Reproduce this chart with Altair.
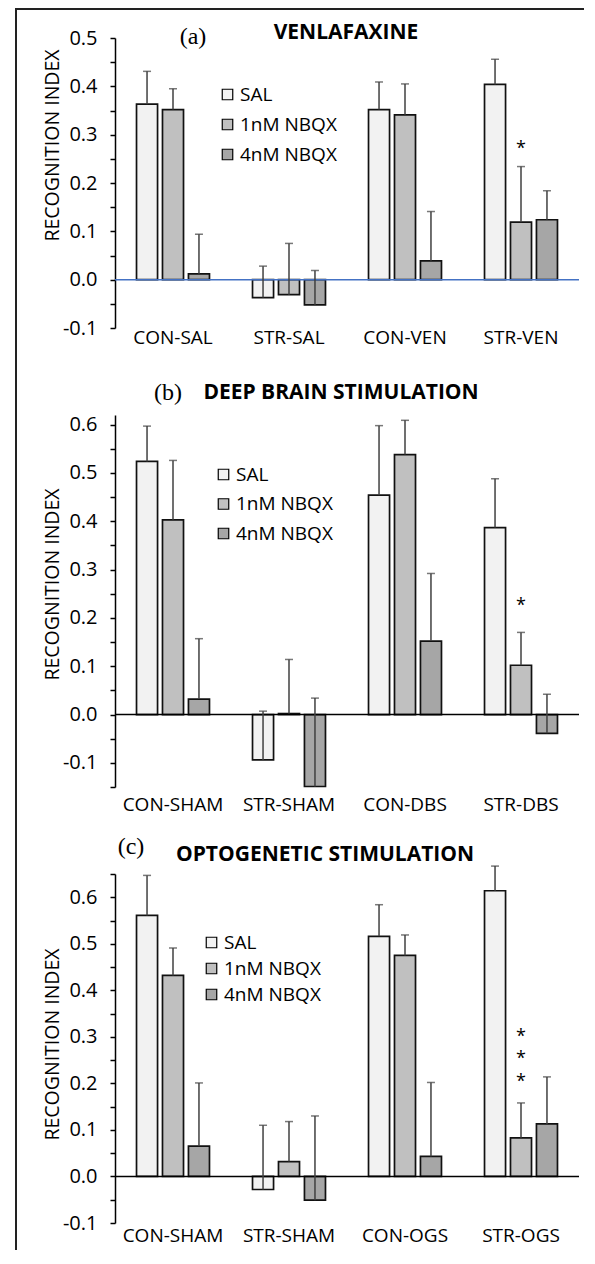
import altair as alt
import pandas as pd

FONT = "Open Sans"
SERIES = ["SAL", "1nM NBQX", "4nM NBQX"]
COLORS = ["#F2F2F2", "#C0C0C0", "#A6A6A6"]

# ---------------- panel (a) VENLAFAXINE ----------------
groups_a = ["CON-SAL", "STR-SAL", "CON-VEN", "STR-VEN"]
sal_a = [0.363, -0.037, 0.352, 0.404]
nbqx1_a = [0.352, -0.031, 0.341, 0.119]
nbqx4_a = [0.012, -0.052, 0.039, 0.124]
err_sal_a = [0.068, 0.065, 0.057, 0.052]
err_nbqx1_a = [0.043, 0.106, 0.064, 0.115]
err_nbqx4_a = [0.082, 0.071, 0.102, 0.060]
stars_a = [0.283]
ticks_a = [-0.1, -0.05, 0.0, 0.05, 0.1, 0.15, 0.2, 0.25, 0.3, 0.35, 0.4, 0.45, 0.5]

# ---------------- panel (b) DEEP BRAIN STIMULATION ----------------
groups_b = ["CON-SHAM", "STR-SHAM", "CON-DBS", "STR-DBS"]
sal_b = [0.524, -0.094, 0.454, 0.387]
nbqx1_b = [0.403, 0.002, 0.538, 0.102]
nbqx4_b = [0.032, -0.149, 0.152, -0.039]
err_sal_b = [0.073, 0.101, 0.144, 0.101]
err_nbqx1_b = [0.123, 0.112, 0.071, 0.068]
err_nbqx4_b = [0.125, 0.183, 0.140, 0.081]
stars_b = [0.238]
ticks_b = [-0.15, -0.1, -0.05, 0.0, 0.05, 0.1, 0.15, 0.2, 0.25, 0.3, 0.35, 0.4, 0.45, 0.5, 0.55, 0.6]

# ---------------- panel (c) OPTOGENETIC STIMULATION ----------------
groups_c = ["CON-SHAM", "STR-SHAM", "CON-OGS", "STR-OGS"]
sal_c = [0.561, -0.028, 0.516, 0.614]
nbqx1_c = [0.432, 0.032, 0.475, 0.083]
nbqx4_c = [0.065, -0.051, 0.043, 0.113]
err_sal_c = [0.086, 0.138, 0.068, 0.053]
err_nbqx1_c = [0.059, 0.086, 0.044, 0.075]
err_nbqx4_c = [0.136, 0.181, 0.159, 0.101]
stars_c = [0.313, 0.265, 0.216]
ticks_c = [-0.1, -0.05, 0.0, 0.05, 0.1, 0.15, 0.2, 0.25, 0.3, 0.35, 0.4, 0.45, 0.5, 0.55, 0.6, 0.65]

PLOT_W = 464
LABEL_EXPR = ("abs(round(datum.value*100)) % 10 == 0 ? "
              "replace(format(datum.value, '.1f'), '\u2212', '-') : ''")


def panel(groups, vals, errs, ydom, ticks, height, zero_color, xlabel_pad,
          leg_x, leg_y, row_pad, star_group, star_ys, tag, tag_xy,
          title, title_xy, axis_title_y, frame=False):
    rows = []
    for s, vs, es in zip(SERIES, vals, errs):
        for g, v, e in zip(groups, vs, es):
            rows.append({"group": g, "series": s, "value": v, "top": round(v + e, 4)})
    df = pd.DataFrame(rows)

    x_enc = alt.X("group:N", sort=groups,
                  scale=alt.Scale(paddingInner=0.371, paddingOuter=0.1855),
                  axis=alt.Axis(title=None, labelAngle=0, domain=False, ticks=False,
                                labelFont=FONT, labelFontSize=19, labelColor="black",
                                labelPadding=xlabel_pad))
    xo_enc = alt.XOffset("series:N", sort=SERIES,
                         scale=alt.Scale(paddingInner=0.19, paddingOuter=0))
    y_scale = alt.Scale(domain=ydom, nice=False, zero=False)
    y_axis = alt.Axis(values=ticks, tickCount=60, labelExpr=LABEL_EXPR, labelOverlap=False,
                      title="RECOGNITION INDEX", titleFont=FONT, titleFontSize=19.5,
                      titleFontWeight="normal", titleColor="black",
                      titleX=-63, titleY=axis_title_y, titleBaseline="middle",
                      labelFont=FONT, labelFontSize=20, labelColor="black",
                      labelPadding=13, tickSize=5, tickColor="black", tickWidth=1.5,
                      domainColor="black", domainWidth=1.5, grid=False)

    bars = alt.Chart(df).mark_bar(stroke="#111111", strokeWidth=1.7).encode(
        x=x_enc, xOffset=xo_enc,
        y=alt.Y("value:Q", scale=y_scale, axis=y_axis),
        color=alt.Color("series:N", sort=SERIES,
                        scale=alt.Scale(domain=SERIES, range=COLORS),
                        legend=alt.Legend(orient="none", legendX=leg_x, legendY=leg_y,
                                          title=None, symbolType="square", symbolSize=110,
                                          symbolStrokeColor="black", symbolStrokeWidth=1.2,
                                          symbolOpacity=1, labelFont=FONT, labelFontSize=19,
                                          labelColor="black", rowPadding=row_pad,
                                          padding=0, labelOffset=3, direction="vertical")),
    )
    zero = alt.Chart(pd.DataFrame({"value": [0.0]})).mark_rule(
        color=zero_color, strokeWidth=1.5).encode(y="value:Q")
    err = alt.Chart(df).mark_rule(color="#404040", strokeWidth=1.5).encode(
        x=alt.X("group:N", sort=groups), xOffset=alt.XOffset("series:N", sort=SERIES),
        y="value:Q", y2="top:Q")
    cap = alt.Chart(df).mark_tick(color="#404040", thickness=1.5, size=8,
                                  orient="horizontal").encode(
        x=alt.X("group:N", sort=groups), xOffset=alt.XOffset("series:N", sort=SERIES),
        y="top:Q")
    sdf = pd.DataFrame({"group": [star_group] * len(star_ys),
                        "series": ["1nM NBQX"] * len(star_ys), "value": star_ys})
    stars = alt.Chart(sdf).mark_text(text="*", font=FONT, fontSize=18, color="black",
                                     baseline="alphabetic", dy=11).encode(
        x=alt.X("group:N", sort=groups), xOffset=alt.XOffset("series:N", sort=SERIES),
        y="value:Q")
    tag_t = alt.Chart(pd.DataFrame({"t": [tag]})).mark_text(
        font="Liberation Serif", fontSize=24, color="black", align="center",
        baseline="middle").encode(text="t:N", x=alt.value(tag_xy[0]), y=alt.value(tag_xy[1]))
    title_t = alt.Chart(pd.DataFrame({"t": [title]})).mark_text(
        font=FONT, fontSize=21, fontWeight="bold", color="black", align="center",
        baseline="middle").encode(text="t:N", x=alt.value(title_xy[0]), y=alt.value(title_xy[1]))
    layers = [bars, zero, err, cap, stars, tag_t, title_t]
    if frame:
        fdf = pd.DataFrame({"k": [0]})
        # outer figure frame: left edge
        layers.append(alt.Chart(fdf).mark_rect(color="#222222").encode(
            x=alt.value(-100), x2=alt.value(-98), y=alt.value(-30), y2=alt.value(1212)))
        # top edge, left part (outside the plot's width)
        layers.append(alt.Chart(fdf).mark_rect(color="#222222").encode(
            x=alt.value(-100), x2=alt.value(0), y=alt.value(-30), y2=alt.value(-28)))
        # top edge across the plot's width
        layers.append(alt.Chart(fdf).mark_rule(color="#222222", strokeWidth=2).encode(
            y=alt.value(-29)))
        # top edge, right part
        layers.append(alt.Chart(fdf).mark_rect(color="#222222").encode(
            x=alt.value(464), x2=alt.value(469), y=alt.value(-30), y2=alt.value(-28)))
    return alt.layer(*layers).properties(width=PLOT_W, height=height)


pa = panel(groups_a, [sal_a, nbqx1_a, nbqx4_a], [err_sal_a, err_nbqx1_a, err_nbqx4_a],
           [-0.1, 0.5], ticks_a, 290, "#4472C4", 0, 103, 47, 10, "STR-VEN", stars_a,
           "(a)", (78, -1), "VENLAFAXINE", (231, -5), 107, frame=True)
pb = panel(groups_b, [sal_b, nbqx1_b, nbqx4_b], [err_sal_b, err_nbqx1_b, err_nbqx4_b],
           [-0.15, 0.62], ticks_b, 372, "black", 8, 99, 50, 9.5, "STR-DBS", stars_b,
           "(b)", (53, -22), "DEEP BRAIN STIMULATION", (226, -22), 169)
pc = panel(groups_c, [sal_c, nbqx1_c, nbqx4_c], [err_sal_c, err_nbqx1_c, err_nbqx4_c],
           [-0.1, 0.65], ticks_c, 349, "black", 3, 87, 59, 6, "STR-OGS", stars_c,
           "(c)", (16, -27), "OPTOGENETIC STIMULATION", (210, -19), 170)

chart = alt.vconcat(pa, pb, pc, spacing=87, bounds="flush").resolve_scale(
    color="independent"
).resolve_legend(color="independent").properties(
    padding={"left": 7, "top": 0, "right": 0, "bottom": 0}
).configure(font=FONT, background="white").configure_view(strokeWidth=0)

chart.save("out.html", embed_options={"renderer": "svg", "actions": False})
